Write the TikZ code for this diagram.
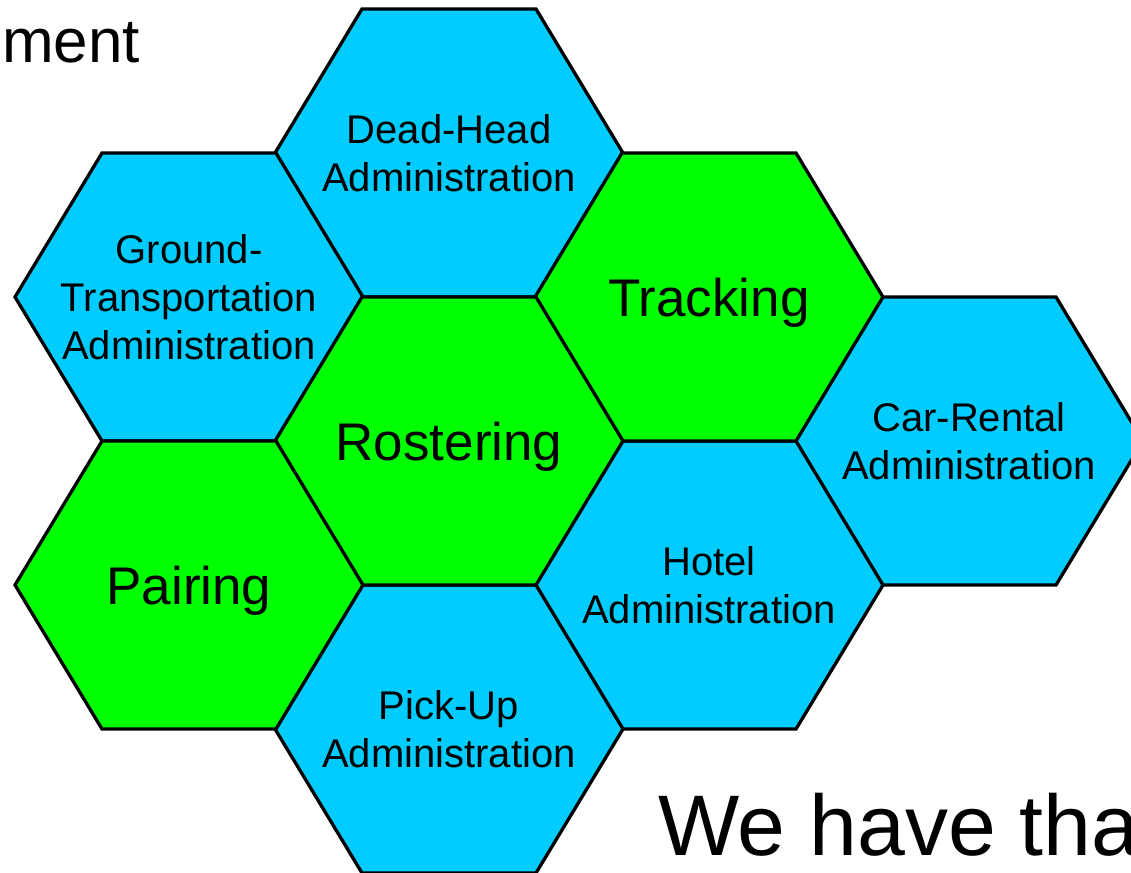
\documentclass[tikz,border=0pt]{standalone}
\usepackage{fontspec}
\setmainfont{Liberation Sans}
\usepackage{tikz}

\definecolor{adminblue}{HTML}{00CCFF}
\definecolor{coregreen}{HTML}{00FF00}

\begin{document}
\begin{tikzpicture}[x=1pt,y=-1pt]
\tikzstyle{hexcell}=[draw=black,line width=3.3pt,line join=miter]
\tikzstyle{adminlabel}=[align=center,font=\fontsize{40}{48}\selectfont,inner sep=0pt]
\tikzstyle{corelabel}=[align=center,font=\fontsize{53}{60}\selectfont,inner sep=0pt,yshift=-6pt]
\tikzstyle{slidetext}=[inner sep=0pt,font=\fontsize{62}{70}\selectfont]

\clip (0,0) rectangle (1131,872);

%% Administration cells
\foreach \cx/\cy/\name/\txt in {
    449/153/deadhead/{Dead-Head\\Administration},
    189/297/ground/{Ground-\\Transportation\\Administration},
    969/441/carrental/{Car-Rental\\Administration},
    709/585/hotel/{Hotel\\Administration},
    449/729/pickup/{Pick-Up\\Administration}}
{
    \draw[hexcell,fill=adminblue] (\cx,\cy) ++(-174,0) -- ++(87,-144) -- ++(174,0)
        -- ++(87,144) -- ++(-87,144) -- ++(-174,0) -- cycle;
    \node[adminlabel] (\name) at (\cx,\cy) {\txt};
}

%% Core cells
\foreach \cx/\cy/\name/\txt in {
    709/297/tracking/Tracking,
    449/441/rostering/Rostering,
    189/585/pairing/Pairing}
{
    \draw[hexcell,fill=coregreen] (\cx,\cy) ++(-174,0) -- ++(87,-144) -- ++(174,0)
        -- ++(87,144) -- ++(-87,144) -- ++(-174,0) -- cycle;
    \node[corelabel] (\name) at (\cx,\cy) {\txt};
}

%% Slide text round the cells
\node[slidetext,anchor=base west] (title) at (2,63) {ment};
\node[slidetext,anchor=base west,font=\fontsize{86}{92}\selectfont] (remark) at (658,855) {We have tha};

\end{tikzpicture}
\end{document}
